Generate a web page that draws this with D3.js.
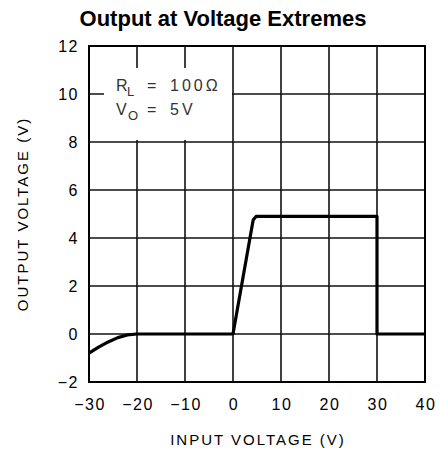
<!DOCTYPE html>
<html><head><meta charset="utf-8">
<script src="https://cdn.jsdelivr.net/npm/d3@7"></script>
<style>body{margin:0;background:#fff}svg{display:block}</style>
</head><body><svg id="c" width="439" height="457"></svg>
<script>
const xTicks = [-30, -20, -10, 0, 10, 20, 30, 40];
const yTicks = [-2, 0, 2, 4, 6, 8, 10, 12];
const inputV = [-30, -28, -26, -24, -22, -20, 0, 4.2, 4.8, 30, 30, 40];
const outputV = [-0.8, -0.55, -0.33, -0.15, -0.04, 0, 0, 4.75, 4.9, 4.9, 0, 0];

const svg = d3.select("#c");
const x = d3.scaleLinear().domain([-30, 40]).range([89, 425]);
const y = d3.scaleLinear().domain([-2, 12]).range([382, 46]);
const font = "'Liberation Sans', Arial, sans-serif";

svg.append("text").attr("x", 223).attr("y", 26).attr("text-anchor", "middle")
  .attr("font-family", font).attr("font-weight", "bold").attr("font-size", 22).text("Output at Voltage Extremes");

const g = svg.append("g");
xTicks.slice(1, -1).forEach(v => {
  g.append("line").attr("x1", x(v)).attr("x2", x(v)).attr("y1", y(12)).attr("y2", y(-2))
    .attr("stroke", "#111").attr("stroke-width", 1.6);
});
yTicks.slice(1, -1).forEach(v => {
  g.append("line").attr("x1", x(-30)).attr("x2", x(40)).attr("y1", y(v)).attr("y2", y(v))
    .attr("stroke", "#111").attr("stroke-width", 1.6);
});
g.append("rect").attr("x", 104).attr("y", 68).attr("width", 128).attr("height", 72).attr("fill", "#fff");
g.append("rect").attr("x", x(-30)).attr("y", y(12)).attr("width", x(40) - x(-30)).attr("height", y(-2) - y(12))
  .attr("fill", "none").attr("stroke", "#000").attr("stroke-width", 2);

const pts = inputV.map((d, i) => [d, outputV[i]]);
g.append("path").datum(pts)
  .attr("d", d3.line().x(d => x(d[0])).y(d => y(d[1])))
  .attr("fill", "none").attr("stroke", "#000").attr("stroke-width", 3.2).attr("stroke-linejoin", "round");

const fmt = d => d < 0 ? "\u2212" + Math.abs(d) : d;
svg.append("g").selectAll("text").data(yTicks).join("text")
  .attr("x", 79).attr("y", d => y(d) + 6).attr("text-anchor", "end")
  .attr("font-family", font).attr("font-size", 16).attr("letter-spacing", 1.5).text(fmt);
svg.append("g").selectAll("text").data(xTicks).join("text")
  .attr("x", d => x(d) + 1).attr("y", 410).attr("text-anchor", "middle")
  .attr("font-family", font).attr("font-size", 16).attr("letter-spacing", 1.5).text(fmt);

svg.append("text").attr("x", 258).attr("y", 445).attr("text-anchor", "middle")
  .attr("font-family", font).attr("font-size", 15).attr("letter-spacing", 2).text("INPUT VOLTAGE (V)");
svg.append("text").attr("transform", "translate(28,214) rotate(-90)").attr("text-anchor", "middle")
  .attr("font-family", font).attr("font-size", 15).attr("letter-spacing", 2).text("OUTPUT VOLTAGE (V)");

const ann = (yy, main, sub, val, subX) => {
  const t = svg.append("g").attr("font-family", font).attr("fill", "#333");
  t.append("text").attr("x", 116).attr("y", yy).attr("font-size", 16).text(main);
  t.append("text").attr("x", subX).attr("y", yy + 5).attr("font-size", 13).text(sub);
  t.append("text").attr("x", 147).attr("y", yy).attr("font-size", 16).text("=");
  t.append("text").attr("x", 170).attr("y", yy).attr("font-size", 16).attr("letter-spacing", 3).text(val);
};
ann(91, "R", "L", "100Ω", 127);
ann(115, "V", "O", "5V", 128);
</script></body></html>
